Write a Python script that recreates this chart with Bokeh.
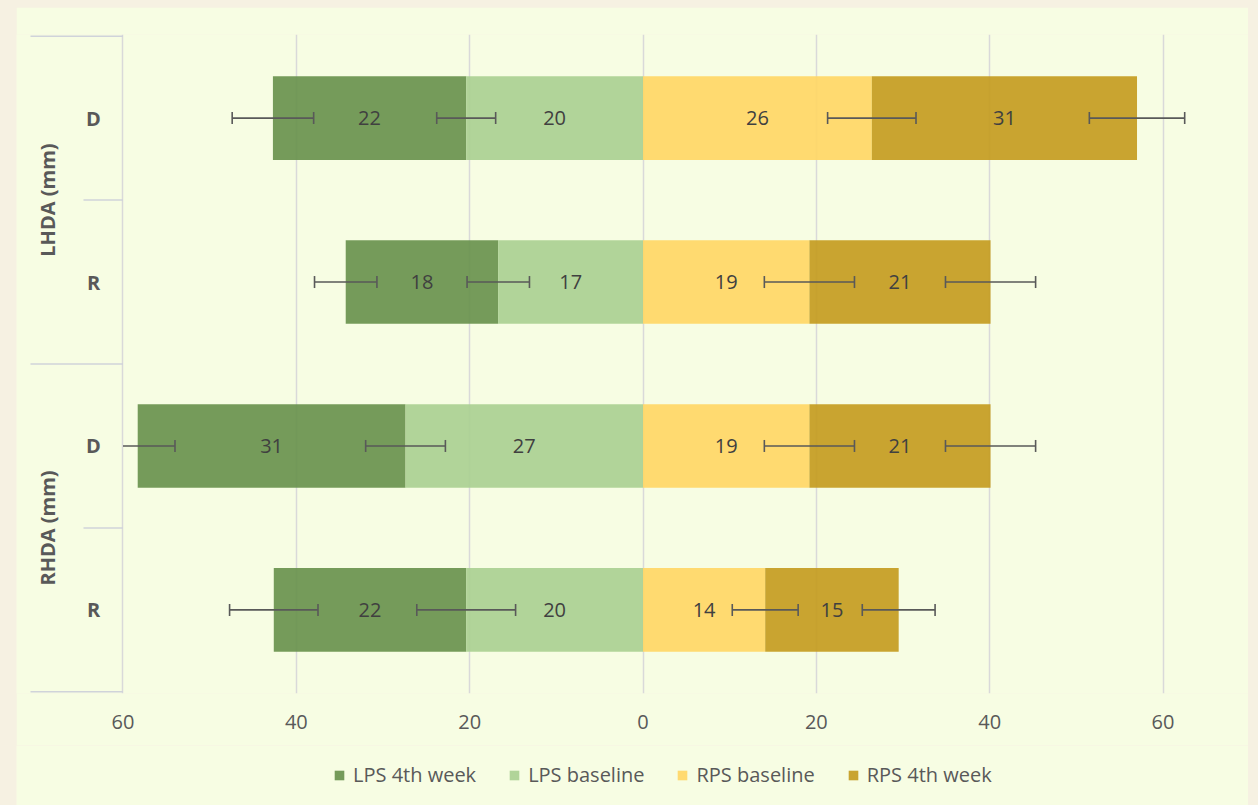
import numpy as np
from bokeh.plotting import figure
from bokeh.models import ColumnDataSource, Legend, LegendItem, FixedTicker, Range1d
from bokeh.core.properties import value
from bokeh.layouts import column
from bokeh.embed import file_html
from bokeh.resources import INLINE

# ---------------- data (top row first) ----------------
groups = ["LHDA (mm)", "LHDA (mm)", "RHDA (mm)", "RHDA (mm)"]
subgroups = ["D", "R", "D", "R"]
lps_4th = [22.3, 17.6, 30.9, 22.2]
lps_base = [20.4, 16.7, 27.4, 20.4]
rps_base = [26.4, 19.2, 19.2, 14.1]
rps_4th = [30.6, 20.9, 20.9, 15.4]
err_lps_4th = [4.7, 3.6, 4.3, 5.1]
err_lps_base = [3.4, 3.6, 4.6, 5.7]
err_rps_base = [5.1, 5.2, 5.2, 3.8]
err_rps_4th = [5.5, 5.2, 5.2, 4.2]
x_ticks = [-60, -40, -20, 0, 20, 40, 60]
series_names = ["LPS 4th week", "LPS baseline", "RPS baseline", "RPS 4th week"]
colors = ["#66904A", "#A8CF90", "#FFD663", "#C39A1C"]

# ---------------- layout constants ----------------
FONT = "Open Sans"
BG = "#F7FDE3"
OUTER = "#F6F1E2"
W = 1232
H_MAIN = 738
H_LEG = 60
PX_PER_X = 8.667
X0_PX = 626.5           # figure px of x = 0
PX_PER_Y = 164.0
XMIN = -60              # error bars are cut at the left edge of the plot area

n = len(subgroups)
rows = np.arange(n)[::-1].astype(float)   # top row = n-1

x_start = -X0_PX / PX_PER_X
x_end = (W - X0_PX) / PX_PER_X
y_lo, y_hi = -0.51, n - 0.5 + 0.01
frame_h = int(round((y_hi - y_lo) * PX_PER_Y))
top_b = 27
bot_b = H_MAIN - top_b - frame_h

p = figure(width=W, height=H_MAIN, output_backend="svg", toolbar_location=None,
           x_range=Range1d(x_start, x_end), y_range=Range1d(y_lo, y_hi),
           y_axis_location=None,
           min_border_left=0, min_border_right=0,
           min_border_top=top_b, min_border_bottom=bot_b)
p.background_fill_color = BG
p.border_fill_color = BG
p.outline_line_color = None
p.ygrid.visible = False

p.xgrid.ticker = FixedTicker(ticks=x_ticks)
p.xgrid.grid_line_color = "#D9D9D9"
p.xgrid.grid_line_width = 1.5

ax = p.xaxis[0]
ax.ticker = FixedTicker(ticks=x_ticks)
ax.major_label_overrides = {t: str(abs(t)) for t in x_ticks}
ax.axis_line_color = None
ax.major_tick_line_color = None
ax.minor_tick_line_color = None
ax.major_label_text_font = FONT
ax.major_label_text_font_size = "20px"
ax.major_label_text_color = "#595959"
ax.major_label_standoff = 15

# ---------------- bars ----------------
lb = np.array(lps_base); l4 = np.array(lps_4th)
rb = np.array(rps_base); r4 = np.array(rps_4th)
segs = [
    (-(lb + l4), -lb, l4, np.array(err_lps_4th), -(lb + l4)),
    (-lb, np.zeros(n), lb, np.array(err_lps_base), -lb),
    (np.zeros(n), rb, rb, np.array(err_rps_base), rb),
    (rb, rb + r4, r4, np.array(err_rps_4th), rb + r4),
]
bar_h = 0.51
for (left, right, vals, err, end), col in zip(segs, colors):
    src = ColumnDataSource(dict(y=rows, left=left, right=right))
    p.hbar(y="y", left="left", right="right", height=bar_h, source=src,
           fill_color=col, fill_alpha=0.9, line_color=None)

# ---------------- data labels ----------------
for (left, right, vals, err, end) in segs:
    src = ColumnDataSource(dict(x=(left + right) / 2, y=rows,
                                t=[f"{v:.0f}" for v in np.round(vals)]))
    p.text(x="x", y="y", text="t", source=src, text_font=value(FONT),
           text_font_size="20px", text_color="#404040",
           text_align="center", text_baseline="middle")

# ---------------- error bars ----------------
cap = 6 / PX_PER_Y
for (left, right, vals, err, end) in segs:
    lo = end - err; hi = end + err
    lo_c = np.maximum(lo, XMIN)
    p.segment(x0=lo_c, y0=rows, x1=hi, y1=rows, line_color="#595959", line_width=1.6)
    keep = np.isclose(lo, lo_c)
    p.segment(x0=lo[keep], y0=rows[keep] - cap, x1=lo[keep], y1=rows[keep] + cap,
              line_color="#595959", line_width=1.6)
    p.segment(x0=hi, y0=rows - cap, x1=hi, y1=rows + cap,
              line_color="#595959", line_width=1.6)

# ---------------- category axis (multi-level) ----------------
axis_col = "#D0D3DA"
outer_x = x_start + 14 / PX_PER_X
inner_x = x_start + 67 / PX_PER_X
bounds = np.arange(n + 1) - 0.5
grp_rev = groups[::-1]
grp_change = [b for i, b in enumerate(bounds)
              if i == 0 or i == n or grp_rev[i - 1] != grp_rev[i]]
sub_only = [b for b in bounds if b not in grp_change]
p.segment(x0=[outer_x] * len(grp_change), y0=grp_change,
          x1=[XMIN] * len(grp_change), y1=grp_change, line_color=axis_col, line_width=1.5)
p.segment(x0=[inner_x] * len(sub_only), y0=sub_only,
          x1=[XMIN] * len(sub_only), y1=sub_only, line_color=axis_col, line_width=1.5)

sub_x = x_start + 77 / PX_PER_X
p.text(x=[sub_x] * n, y=rows, text=subgroups, text_font=value(FONT),
       text_font_size="20px", text_font_style="bold", text_color="#595959",
       text_align="center", text_baseline="middle")

ug = list(dict.fromkeys(groups))
g_y = [rows[[i for i, g in enumerate(groups) if g == name]].mean() for name in ug]
grp_x = x_start + 31 / PX_PER_X
p.text(x=[grp_x] * len(ug), y=g_y, text=ug, angle=np.pi / 2, text_font=value(FONT),
       text_font_size="20px", text_font_style="bold", text_color="#595959",
       text_align="center", text_baseline="middle")

# ---------------- legend (separate strip below) ----------------
lf = figure(width=W, height=H_LEG, output_backend="svg", toolbar_location=None,
            x_range=Range1d(0, 1), y_range=Range1d(0, 1),
            x_axis_location=None, y_axis_location=None,
            min_border_left=0, min_border_right=0, min_border_top=0, min_border_bottom=0)
lf.background_fill_color = BG
lf.border_fill_color = BG
lf.outline_line_color = None
lf.grid.visible = False
leg_r = []
for col in colors:
    # off-range proxy glyphs, used only for the legend swatches
    leg_r.append(lf.hbar(y=[-5], left=[0], right=[1], height=0.5,
                         fill_color=col, fill_alpha=0.9, line_color=None))
legend = Legend(items=[LegendItem(label=nm, renderers=[r]) for nm, r in zip(series_names, leg_r)],
                orientation="horizontal", location=(317, 17),
                glyph_width=12, glyph_height=12, label_standoff=8, spacing=32,
                padding=0, margin=0, border_line_color=None, background_fill_alpha=0,
                label_text_font=FONT, label_text_font_size="20px", label_text_color="#595959")
lf.add_layout(legend)

p.margin = (7, 10, 0, 16)
lf.margin = (0, 10, 0, 16)
lay = column(p, lf, spacing=0, styles={"background-color": OUTER})

open("out.html", "w").write(file_html(lay, INLINE))
